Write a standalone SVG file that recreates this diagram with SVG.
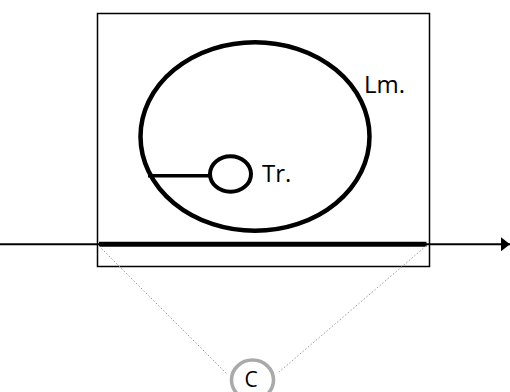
<svg xmlns="http://www.w3.org/2000/svg" width="510" height="392" viewBox="0 0 510 392">
<style>
.lbl{font-family:"Open Sans","Liberation Sans",sans-serif;fill:#000}
</style>
<defs>
<marker id="ah" markerWidth="9" markerHeight="14" refX="9" refY="7" orient="auto" markerUnits="userSpaceOnUse">
<path d="M0,0 L9,7 L0,14 Z" fill="#000"/>
</marker>
</defs>
<rect width="510" height="392" fill="#fff"/>
<g id="frame"><rect x="97.5" y="13.5" width="332" height="253" fill="none" stroke="#000" stroke-width="1.5"/></g>
<g id="connectors">
<line x1="0" y1="244.3" x2="510" y2="244.3" stroke="#000" stroke-width="2" marker-end="url(#ah)"/>
<line x1="99" y1="244.3" x2="426.5" y2="244.3" stroke="#000" stroke-width="5"/>
<line x1="99" y1="246" x2="227" y2="374" stroke="#999" stroke-width="1" stroke-dasharray="1.5 2"/>
<line x1="426" y1="246" x2="279" y2="372" stroke="#999" stroke-width="1" stroke-dasharray="1.5 2"/>
<line x1="148" y1="175.7" x2="210" y2="175.7" stroke="#000" stroke-width="3.5"/>
</g>
<g id="lm">
<ellipse cx="255" cy="136.5" rx="114.5" ry="94.3" fill="none" stroke="#000" stroke-width="4.5"/>
<text class="lbl" x="364" y="92.7" font-size="24">Lm.</text>
</g>
<g id="tr">
<ellipse cx="230.5" cy="174" rx="20.5" ry="17.8" fill="none" stroke="#000" stroke-width="4"/>
<text class="lbl" x="262" y="181.7" font-size="24">Tr.</text>
</g>
<g id="c">
<ellipse cx="252.5" cy="380" rx="21" ry="20" fill="#fff" stroke="#aaa" stroke-width="3.5"/>
<text class="lbl" x="251" y="387" font-size="21" text-anchor="middle">C</text>
</g>
</svg>
